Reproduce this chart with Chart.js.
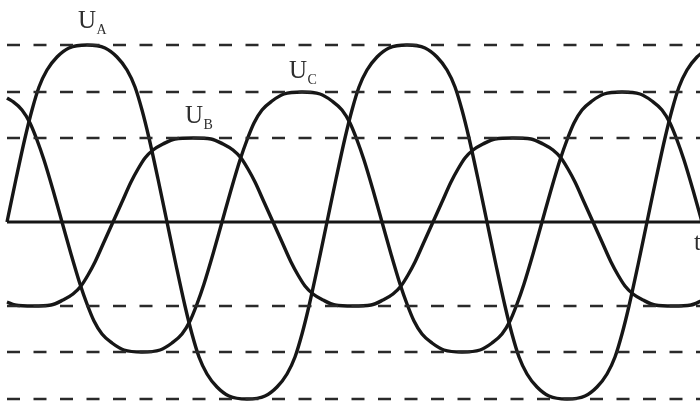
<!DOCTYPE html>
<html>
<head>
<meta charset="utf-8">
<script src="https://cdn.jsdelivr.net/npm/chart.js@4.4.1/dist/chart.umd.min.js"></script>
<style>
  html, body { margin: 0; padding: 0; background: #fff; }
  #wrap { width: 700px; height: 401px; }
</style>
</head>
<body>
<div id="wrap"><canvas id="phaseChart" width="700" height="401"></canvas></div>
<script>
// time positions (t) and voltages
const tA = [7, 16, 25, 32, 39, 47, 57, 69, 87, 105, 117, 127, 135, 142, 149, 158, 167,
    176, 185, 192, 199, 207, 217, 229, 247, 265, 277, 287, 295, 302, 309, 318, 327,
    336, 345, 352, 359, 367, 377, 389, 407, 425, 437, 447, 455, 462, 469, 478, 487,
    496, 505, 512, 519, 527, 537, 549, 567, 585, 597, 607, 615, 622, 629, 638, 647,
    656, 665, 672, 679, 687, 697, 709];
const uA = [0, 43, 84, 112, 135, 152, 165, 174, 177, 174, 165, 152, 135, 112, 84, 43, 0,
    -43, -84, -112, -135, -152, -165, -174, -177, -174, -165, -152, -135, -112, -84, -43, 0,
    43, 84, 112, 135, 152, 165, 174, 177, 174, 165, 152, 135, 112, 84, 43, 0,
    -43, -84, -112, -135, -152, -165, -174, -177, -174, -165, -152, -135, -112, -84, -43, 0,
    43, 84, 112, 135, 152, 165, 174];

const tB = [7, 15, 33, 51, 63, 73, 81, 88, 95, 104, 113,
    122, 131, 138, 145, 153, 163, 175, 193, 211, 223, 233, 241, 248, 255, 264, 273,
    282, 291, 298, 305, 313, 323, 335, 353, 371, 383, 393, 401, 408, 415, 424, 433,
    442, 451, 458, 465, 473, 483, 495, 513, 531, 543, 553, 561, 568, 575, 584, 593,
    602, 611, 618, 625, 633, 643, 655, 673, 691, 703];
const uB = [-80, -83, -84, -83, -78, -72, -64, -53, -40, -20, 0,
    20, 40, 53, 64, 72, 78, 83, 84, 83, 78, 72, 64, 53, 40, 20, 0,
    -20, -40, -53, -64, -72, -78, -83, -84, -83, -78, -72, -64, -53, -40, -20, 0,
    20, 40, 53, 64, 72, 78, 83, 84, 83, 78, 72, 64, 53, 40, 20, 0,
    -20, -40, -53, -64, -72, -78, -83, -84, -83, -78];

const tC = [7, 12, 22, 30, 37, 44, 53, 62,
    71, 80, 87, 94, 102, 112, 124, 142, 160, 172, 182, 190, 197, 204, 213, 222,
    231, 240, 247, 254, 262, 272, 284, 302, 320, 332, 342, 350, 357, 364, 373, 382,
    391, 400, 407, 414, 422, 432, 444, 462, 480, 492, 502, 510, 517, 524, 533, 542,
    551, 560, 567, 574, 582, 592, 604, 622, 640, 652, 662, 670, 677, 684, 693, 702];
const uC = [124, 121, 112, 99, 82, 62, 32, 0,
    -32, -62, -82, -99, -112, -121, -128, -130, -128, -121, -112, -99, -82, -62, -32, 0,
    32, 62, 82, 99, 112, 121, 128, 130, 128, 121, 112, 99, 82, 62, 32, 0,
    -32, -62, -82, -99, -112, -121, -128, -130, -128, -121, -112, -99, -82, -62, -32, 0,
    32, 62, 82, 99, 112, 121, 128, 130, 128, 121, 112, 99, 82, 62, 32, 0];

// dashed amplitude levels and the time axis span
const levels = [177, 130, 84, -84, -130, -177];
const tSpan = [7, 700];

const ink = "#161616";

function pts(ts, vs) {
    return ts.map((t, i) => ({ x: t, y: vs[i] }));
}

const datasets = [];

levels.forEach((v) => {
    datasets.push({
        data: tSpan.map((t) => ({ x: t, y: v })),
        borderColor: "#2a2a2a",
        borderWidth: 2.6,
        borderDash: [13, 13.5],
        tension: 0,
    });
});

// time axis
datasets.push({
    data: tSpan.map((t) => ({ x: t, y: 0 })),
    borderColor: ink,
    borderWidth: 3,
    tension: 0,
});

[[tA, uA], [tB, uB], [tC, uC]].forEach(([ts, vs]) => {
    datasets.push({
        data: pts(ts, vs),
        borderColor: ink,
        borderWidth: 3.4,
        cubicInterpolationMode: "monotone",
        borderCapStyle: "butt",
    });
});

// curve names with subscripts, and the "t" at the axis end
const labelPlugin = {
    id: "phaseLabels",
    afterDatasetsDraw(chart) {
        const { ctx, scales: { x, y } } = chart;
        const items = [
            { main: "U", sub: "A", t: 78, v: 194 },
            { main: "U", sub: "B", t: 185, v: 99 },
            { main: "U", sub: "C", t: 289, v: 144 },
        ];
        ctx.save();
        ctx.fillStyle = "#2e2e2e";
        ctx.textBaseline = "alphabetic";
        items.forEach((it) => {
            const px = x.getPixelForValue(it.t);
            const py = y.getPixelForValue(it.v);
            ctx.font = "25px 'Liberation Serif', 'DejaVu Serif', serif";
            ctx.fillText(it.main, px, py);
            const w = ctx.measureText(it.main).width;
            ctx.font = "14px 'Liberation Serif', 'DejaVu Serif', serif";
            ctx.fillText(it.sub, px + w + 0.5, py + 6);
        });
        ctx.font = "25px 'Liberation Serif', 'DejaVu Serif', serif";
        ctx.fillText("t", x.getPixelForValue(694), y.getPixelForValue(-28));
        ctx.restore();
    },
};

new Chart(document.getElementById("phaseChart"), {
    type: "line",
    data: { datasets },
    options: {
        responsive: false,
        animation: false,
        devicePixelRatio: 1,
        layout: { padding: 0 },
        elements: { point: { radius: 0 } },
        scales: {
            x: { type: "linear", min: 0, max: 700, display: false },
            y: { type: "linear", min: -179, max: 222, display: false },
        },
        plugins: {
            legend: { display: false },
            tooltip: { enabled: false },
        },
    },
    plugins: [labelPlugin],
});
</script>
</body>
</html>
